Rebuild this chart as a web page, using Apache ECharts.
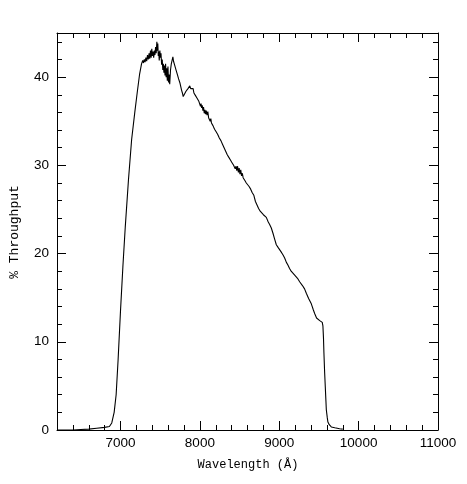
<!DOCTYPE html>
<html>
<head>
<meta charset="utf-8">
<script src="https://cdn.jsdelivr.net/npm/echarts@6/dist/echarts.min.js"></script>
<style>html,body{margin:0;padding:0;background:#fff}#c{width:467px;height:484px}</style>
</head>
<body>
<div id="c"></div>
<script>
var wavelength = [6200,6400,6500,6600,6700,6800,6860,6890,6920,6945,6970,7000,7030,7060,7100,7140,7180,7210,7240,7265,7280,7290,7300,7310,7320,7330,7340,7350,7360,7368,7378,7386,7394,7402,7410,7418,7426,7434,7442,7450,7458,7464,7470,7476,7482,7488,7496,7503,7510,7518,7526,7533,7540,7547,7554,7561,7568,7575,7582,7590,7598,7605,7612,7620,7630,7640,7650,7660,7668,7676,7684,7692,7700,7708,7716,7724,7732,7740,7750,7760,7770,7780,7790,7800,7812,7825,7838,7850,7862,7873,7884,7895,7905,7915,7925,7935,7945,7955,7965,7975,7985,7999,8008,8015,8022,8030,8038,8046,8055,8063,8072,8080,8090,8100,8110,8120,8130,8138,8146,8155,8165,8175,8185,8195,8205,8215,8225,8235,8245,8255,8265,8275,8285,8295,8305,8315,8325,8335,8345,8355,8365,8375,8385,8395,8405,8415,8425,8435,8445,8455,8465,8475,8485,8495,8505,8515,8525,8535,8545,8555,8565,8575,8585,8600,8620,8640,8660,8680,8700,8720,8740,8760,8780,8800,8820,8837,8860,8879,8900,8921,8940,8963,8985,9005,9030,9050,9068,9090,9109,9130,9150,9172,9200,9230,9257,9290,9319,9341,9370,9404,9430,9446,9470,9487,9510,9529,9542,9550,9557,9563,9572,9580,9588,9593,9605,9613,9630,9656,9700,9760,9800];
var throughput = [0,0,0.05,0.1,0.2,0.3,0.4,0.8,2.0,4.0,8.0,13.5,18.5,23,28.3,32.9,36,38.2,40.3,41.5,41.9,41.6,42.0,41.7,42.2,41.8,42.5,42.0,42.7,42.1,43.0,42.2,43.2,42.4,42.9,42.2,43.0,42.5,43.4,42.7,44.0,43.0,43.8,42.4,42.9,41.9,43.0,42.2,42.7,41.4,42.0,40.8,41.5,40.5,41.3,40.2,41.5,40.0,41.0,39.6,41.2,39.4,40.3,39.2,40.8,41.5,41.9,42.3,41.8,42.0,41.3,41.5,40.8,41.0,40.3,40.5,39.8,40.0,39.3,39.1,38.5,38.2,37.8,38.0,37.9,38.4,38.3,38.7,38.6,39.0,38.7,38.9,38.5,38.7,38.2,38.4,37.9,38.1,37.6,37.8,37.3,37.2,36.7,37.0,36.5,36.8,36.2,36.6,35.9,36.3,35.8,36.2,35.7,36.1,35.4,35.6,35.0,35.3,34.8,35.0,34.5,34.7,34.1,34.3,33.8,34.0,33.5,33.6,33.1,33.3,32.8,32.9,32.4,32.5,32.0,32.1,31.6,31.7,31.2,31.4,30.9,31.1,30.6,30.8,30.3,30.5,30.0,30.2,29.6,29.9,29.4,29.9,29.2,29.7,29.0,29.5,28.8,29.1,28.6,28.8,28.3,28.5,28.0,27.9,27.6,27.3,26.9,26.6,25.9,25.5,25.1,24.8,24.6,24.4,24.2,24.1,23.6,23.3,22.9,22.3,21.7,21.0,20.7,20.6,20.1,19.8,19.5,19.0,18.7,18.3,18.0,17.8,17.5,17.2,16.8,16.4,16.0,15.5,14.9,14.3,13.6,13.2,12.7,12.5,12.4,12.4,12.2,11.8,10.5,8.7,6.5,4.9,3.3,2.3,1.4,0.9,0.6,0.35,0.25,0.15,0.1];
var xMajorTicks = [7000,8000,9000,10000,11000];
var yMajorTicks = [0,10,20,30,40];
var xTitle = 'Wavelength (Å)';
var yTitle = '% Throughput';

var points = wavelength.map(function (w, i) { return [w, throughput[i]]; });
var labelFont = { color: '#000', fontFamily: 'Liberation Sans, Arial, sans-serif', fontSize: 13.5, formatter: function (v) { return String(v); } };
var lineStyle = { color: '#000', width: 1 };

function xAxisDef(pos, major, labels) {
  return {
    type: 'value', position: pos, min: 6200, max: 11000, interval: 200,
    axisLine: { show: !major, onZero: false, lineStyle: lineStyle },
    axisTick: major ? { show: true, inside: true, length: 9, customValues: xMajorTicks, lineStyle: lineStyle }
                    : { show: true, inside: true, length: 5, lineStyle: lineStyle },
    axisLabel: labels ? Object.assign({ show: true, margin: 6, customValues: xMajorTicks }, labelFont) : { show: false },
    splitLine: { show: false }
  };
}
function yAxisDef(pos, major, labels) {
  return {
    type: 'value', position: pos, min: 0, max: 45, interval: 2,
    axisLine: { show: !major, onZero: false, lineStyle: lineStyle },
    axisTick: major ? { show: true, inside: true, length: 9, customValues: yMajorTicks, lineStyle: lineStyle }
                    : { show: true, inside: true, length: 5, lineStyle: lineStyle },
    axisLabel: labels ? Object.assign({ show: true, margin: 8, customValues: yMajorTicks }, labelFont) : { show: false },
    splitLine: { show: false }
  };
}

var chart = echarts.init(document.getElementById('c'), null, { renderer: 'canvas' });
chart.setOption({
  animation: false,
  backgroundColor: '#fff',
  grid: { left: 57, right: 29, top: 33, bottom: 54, containLabel: false },
  xAxis: [xAxisDef('bottom', false, true), xAxisDef('bottom', true, false), xAxisDef('top', false, false), xAxisDef('top', true, false)],
  yAxis: [yAxisDef('left', false, true), yAxisDef('left', true, false), yAxisDef('right', false, false), yAxisDef('right', true, false)],
  graphic: [
    { type: 'text', x: 248, y: 465, style: { text: xTitle, fill: '#000', font: '12px "Liberation Mono", monospace', align: 'center', verticalAlign: 'middle' } },
    { type: 'text', x: 15, y: 232, rotation: Math.PI / 2, style: { text: yTitle, fill: '#000', font: '13px "Liberation Mono", monospace', align: 'center', verticalAlign: 'middle' } }
  ],
  series: [{
    type: 'line', data: points, xAxisIndex: 0, yAxisIndex: 0,
    showSymbol: false, symbol: 'none', smooth: false,
    lineStyle: { color: '#000', width: 1.1 }
  }]
});
</script>
</body>
</html>
